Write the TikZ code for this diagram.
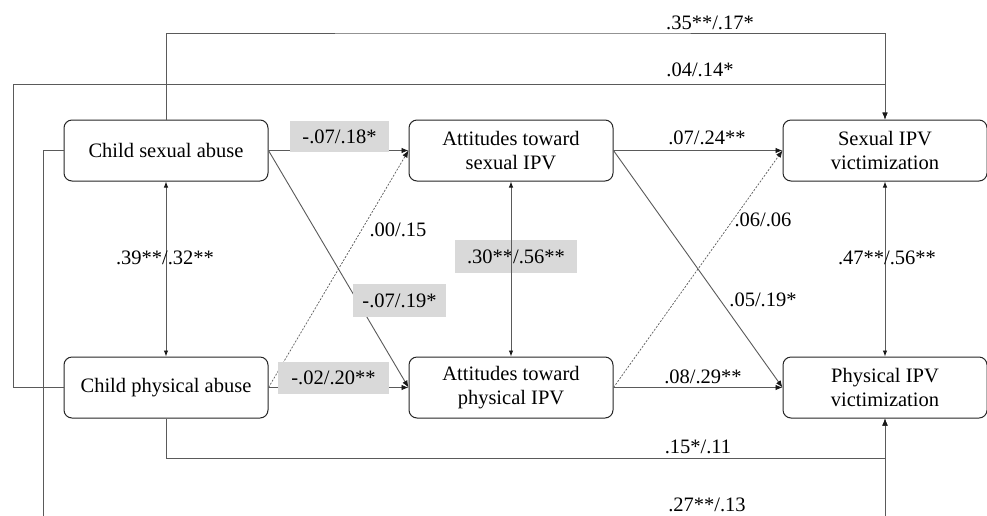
\documentclass[tikz,border=0pt]{standalone}
\usepackage{fontspec}
\setmainfont{Liberation Serif}
\usetikzlibrary{arrows.meta}
\definecolor{lbgray}{HTML}{D9D9D9}
\definecolor{lncol}{HTML}{5A5A5A}
\tikzset{
  varbox/.style={draw=black!85, line width=1pt, rounded corners=8pt, minimum width=204pt, minimum height=61pt, align=center, inner sep=2pt, font=\fontsize{20.5}{24.5}\selectfont},
  conn/.style={draw=lncol, line width=0.9pt},
  arr/.style={conn, -{Latex[length=7pt,width=5.5pt,color=black!90]}},
  darr/.style={conn, {Latex[length=6pt,width=4.5pt,color=black!90]}-{Latex[length=6pt,width=4.5pt,color=black!90]}},
  dotline/.style={arr, dash pattern=on 2pt off 1.5pt, line width=0.7pt},
  lbl/.style={inner sep=0pt, font=\fontsize{20.5}{24}\selectfont},
  glbl/.style={fill=lbgray, inner sep=0pt, font=\fontsize{20.5}{24}\selectfont}
}
\begin{document}
\begin{tikzpicture}[x=1pt,y=-1pt]
\useasboundingbox (0,0) rectangle (987,515);
\clip (0,0) rectangle (987,515);
\fill[white] (0,0) rectangle (987,515);

\node[varbox] (csa) at (166,150.5) {Child sexual abuse};
\node[varbox] (cpa) at (166,387.5) {Child physical abuse};
\node[varbox] (as) at (511,150.5) {Attitudes toward\\sexual IPV};
\node[varbox] (ap) at (511,387.5) {Attitudes toward\\physical IPV};
\node[varbox] (sv) at (885,150.5) {Sexual IPV\\victimization};
\node[varbox] (pv) at (885,387.5) {Physical IPV\\victimization};

% outer paths
\draw[arr] (csa.north) |- (500,33) -| (sv.north);
\draw[arr] (cpa.west) -| (13,84) -| (sv.north);
\draw[arr] (csa.west) -| (43,540) -| (pv.south);
\draw[arr] (cpa.south) |- (600,458) -| (pv.south);

% correlations
\draw[darr] (csa.south) -- (cpa.north);
\draw[darr] (as.south) -- (ap.north);
\draw[darr] (sv.south) -- (pv.north);

% direct paths
\draw[arr] (csa.east) -- (as.west);
\draw[arr] (cpa.east) -- (ap.west);
\draw[arr] (csa.east) -- (ap.west);
\draw[dotline] (cpa.east) -- (as.west);
\draw[arr] (as.east) -- (sv.west);
\draw[arr] (ap.east) -- (pv.west);
\draw[arr] (as.east) -- (pv.west);
\draw[dotline] (ap.east) -- (sv.west);

% shaded labels
\node[glbl, minimum width=99pt, minimum height=31pt] (l1) at (339.5,136.5) {-.07/.18*};
\node[glbl, minimum width=111pt, minimum height=32pt] (l2) at (333.5,378) {-.02/.20**};
\node[glbl, minimum width=93pt, minimum height=33pt] (l3) at (399.5,300.5) {-.07/.19*};
\node[glbl, minimum width=122pt, minimum height=33pt] (l4) at (516,256.5) {.30**/.56**};
\draw[conn] (l4.north -| as.south) -- (l4.south -| as.south);

% plain labels
\node[lbl] (l5) at (398,230) {.00/.15};
\node[lbl] (l6) at (763,220) {.06/.06};
\node[lbl] (l7) at (763,300) {.05/.19*};
\node[lbl] (l8) at (707,138) {.07/.24**};
\node[lbl] (l9) at (703,377) {.08/.29**};
\node[lbl] (l10) at (710,23) {.35**/.17*};
\node[lbl] (l11) at (700,70) {.04/.14*};
\node[lbl] (l12) at (698,447) {.15*/.11};
\node[lbl] (l13) at (707,505) {.27**/.13};
\node[lbl] (l14) at (165,258) {.39**/.32**};
\node[lbl] (l15) at (887,258) {.47**/.56**};
\end{tikzpicture}
\end{document}
